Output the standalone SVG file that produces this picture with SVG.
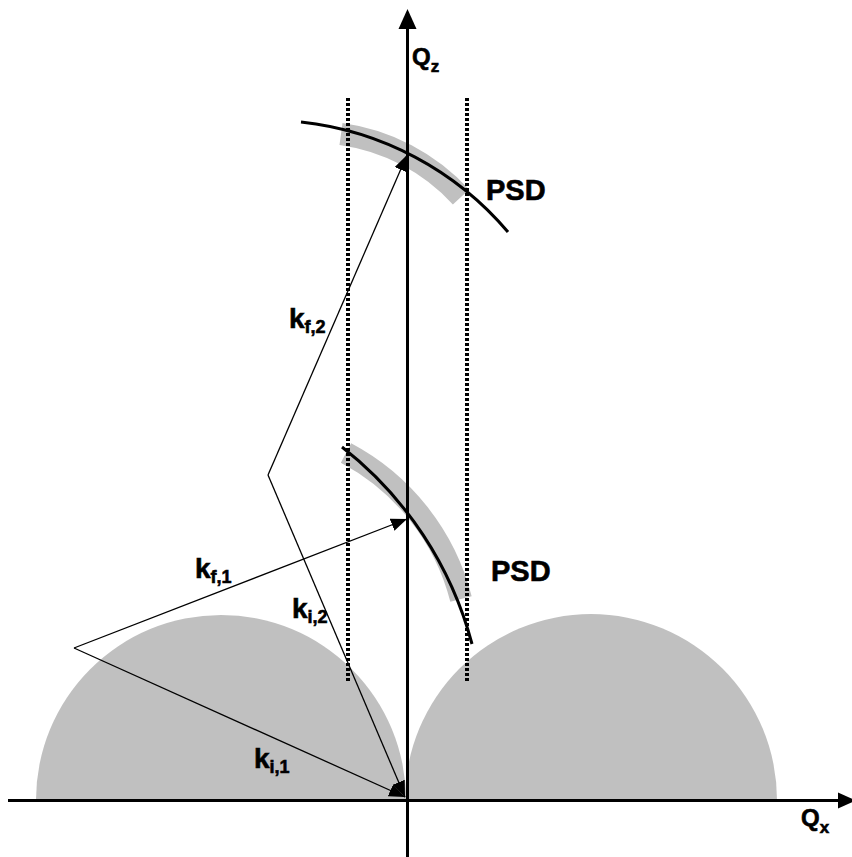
<svg xmlns="http://www.w3.org/2000/svg" width="852" height="857" viewBox="0 0 852 857">
  <style>
    .lbl { font-family: "Liberation Sans", Arial, sans-serif; font-weight: bold; fill: #000; stroke: #000; stroke-width: 0.6; }
    .k { font-size: 28px; }
    .sub { font-size: 18px; }
    .q { font-size: 24px; }
    .qs { font-size: 17px; }
    .psd { font-size: 29px; }
    .disc { fill: #c0c0c0; stroke: none; }
    .band { fill: none; stroke: #c0c0c0; stroke-width: 22; stroke-linecap: butt; }
    .arc { fill: none; stroke: #000; stroke-width: 3; }
    .dot { fill: none; stroke: #000; stroke-width: 4; stroke-dasharray: 3 2; }
    .vec { fill: none; stroke: #000; stroke-width: 1.3; marker-end: url(#head); }
    .axis { fill: none; stroke: #000; stroke-width: 3; }
  </style>
  <defs>
    <marker id="head" markerUnits="userSpaceOnUse" markerWidth="18" markerHeight="14" refX="16" refY="6.5" orient="auto">
      <path d="M0,0 L16,6.5 L0,13 z" fill="#000"/>
    </marker>
  </defs>
  <rect width="852" height="857" fill="#fff"/>

  <g id="domains">
    <path class="disc" d="M36,800 A185,185 0 0,1 406,800 Z"/>
    <path class="disc" d="M405,800 A186,186 0 0,1 777,800 Z"/>
  </g>

  <g id="psd-top">
    <path class="band" d="M341,134 A200,200 0 0,1 461,197"/>
  </g>
  <g id="psd-bottom">
    <path class="band" d="M346,453 A230,230 0 0,1 461,599"/>
  </g>

  <g id="window-lines">
    <line class="dot" x1="348" y1="98" x2="348" y2="683"/>
    <line class="dot" x1="467" y1="98" x2="467" y2="683"/>
  </g>

  <g id="ewald-arcs">
    <path class="arc" d="M301,122 A316,316 0 0,1 508,232"/>
    <path class="arc" d="M342,447 A371,371 0 0,1 472,644"/>
  </g>

  <g id="connectors">
    <line class="vec" x1="74" y1="648" x2="405" y2="797"/>
    <line class="vec" x1="74" y1="648" x2="407" y2="519"/>
    <line class="vec" x1="268" y1="475" x2="405" y2="797"/>
    <line class="vec" x1="268" y1="475" x2="407" y2="155"/>
  </g>

  <g id="axes">
    <line class="axis" x1="8" y1="800.5" x2="840" y2="800.5"/>
    <path d="M856,800.5 L838,792.5 L838,808.5 Z" fill="#000"/>
    <line class="axis" x1="407.5" y1="857" x2="407.5" y2="26"/>
    <path d="M407.5,9 L398.5,29 L416.5,29 Z" fill="#000"/>
  </g>

  <g id="labels">
    <text class="lbl q" x="412" y="65">Q<tspan class="qs" dy="7">z</tspan></text>
    <text class="lbl q" x="801" y="826">Q<tspan class="qs" dy="7">x</tspan></text>
    <text class="lbl psd" x="486" y="200">PSD</text>
    <text class="lbl psd" x="491" y="581">PSD</text>
    <text class="lbl k" x="289" y="328">k<tspan class="sub" dy="5">f,2</tspan></text>
    <text class="lbl k" x="195" y="578">k<tspan class="sub" dy="5">f,1</tspan></text>
    <text class="lbl k" x="292" y="618">k<tspan class="sub" dy="5">i,2</tspan></text>
    <text class="lbl k" x="254" y="768">k<tspan class="sub" dy="5">i,1</tspan></text>
  </g>
</svg>
